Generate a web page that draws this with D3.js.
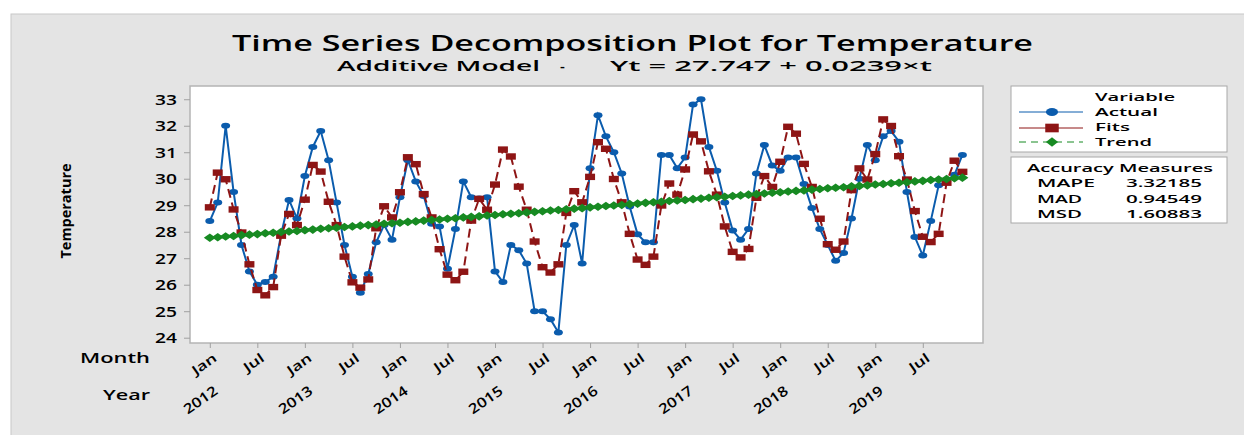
<!DOCTYPE html>
<html>
<head>
<meta charset="utf-8">
<script src="https://cdn.jsdelivr.net/npm/d3@7"></script>
<style>
  body { margin: 0; background: #fff; }
  text { font-family: "Open Sans", "Noto Sans", sans-serif; fill: #000; }
</style>
</head>
<body>
<div id="chart"></div>
<script>
// data, Jan 2012 .. Dec 2019 (monthly)
const years = [2012, 2013, 2014, 2015, 2016, 2017, 2018, 2019];
const monthLabels = ["Jan", "Jul"];
const yTicks = [24, 25, 26, 27, 28, 29, 30, 31, 32, 33];

const actual = [
  28.4, 29.1, 32.0, 29.5, 27.5, 26.5, 26.0, 26.1, 26.3, 27.9, 29.2, 28.5,
  30.1, 31.2, 31.8, 30.7, 29.1, 27.5, 26.3, 25.7, 26.4, 27.6, 28.25, 27.7,
  29.3, 30.7, 29.9, 29.35, 28.3, 28.2, 26.6, 28.1, 29.9, 29.3, 29.25, 29.3,
  26.5, 26.1, 27.5, 27.3, 26.8, 25.0, 25.0, 24.7, 24.2, 27.5, 28.25, 26.8,
  30.4, 32.4, 31.6, 31.0, 30.2, 28.95, 27.9, 27.6, 27.6, 30.9, 30.9, 30.4,
  30.8, 32.8, 33.0, 31.2, 30.3, 29.1, 28.05, 27.7, 28.1, 30.2, 31.27, 30.5,
  30.3, 30.8, 30.8, 29.8, 28.9, 28.1, 27.5, 26.9, 27.2, 28.5, 30.0, 31.27,
  30.7, 31.6, 31.8, 31.4, 29.5, 27.8, 27.1, 28.4, 29.75, 29.9, 30.15, 30.9
];

const fits = [
  28.92, 30.23, 29.98, 28.84, 27.97, 26.77, 25.80, 25.60, 25.91, 27.85, 28.67, 28.25,
  29.21, 30.52, 30.27, 29.13, 28.25, 27.06, 26.09, 25.89, 26.20, 28.13, 28.96, 28.54,
  29.49, 30.81, 30.55, 29.42, 28.54, 27.34, 26.38, 26.17, 26.49, 28.42, 29.24, 28.83,
  29.78, 31.10, 30.84, 29.70, 28.83, 27.63, 26.66, 26.46, 26.77, 28.71, 29.53, 29.11,
  30.07, 31.38, 31.13, 29.99, 29.11, 27.92, 26.95, 26.75, 27.06, 28.99, 29.82, 29.40,
  30.35, 31.67, 31.41, 30.28, 29.40, 28.20, 27.24, 27.03, 27.35, 29.28, 30.10, 29.69,
  30.64, 31.96, 31.70, 30.56, 29.69, 28.49, 27.53, 27.32, 27.63, 29.57, 30.39, 29.97,
  30.93, 32.24, 31.99, 30.85, 29.97, 28.78, 27.81, 27.61, 27.92, 29.85, 30.68, 30.26
];

const trend = [
  27.77, 27.79, 27.82, 27.84, 27.87, 27.89, 27.91, 27.94, 27.96, 27.99, 28.01, 28.03,
  28.06, 28.08, 28.11, 28.13, 28.15, 28.18, 28.20, 28.23, 28.25, 28.27, 28.30, 28.32,
  28.34, 28.37, 28.39, 28.42, 28.44, 28.46, 28.49, 28.51, 28.54, 28.56, 28.58, 28.61,
  28.63, 28.66, 28.68, 28.70, 28.73, 28.75, 28.77, 28.80, 28.82, 28.85, 28.87, 28.89,
  28.92, 28.94, 28.97, 28.99, 29.01, 29.04, 29.06, 29.09, 29.11, 29.13, 29.16, 29.18,
  29.20, 29.23, 29.25, 29.28, 29.30, 29.32, 29.35, 29.37, 29.40, 29.42, 29.44, 29.47,
  29.49, 29.52, 29.54, 29.56, 29.59, 29.61, 29.64, 29.66, 29.68, 29.71, 29.73, 29.75,
  29.78, 29.80, 29.83, 29.85, 29.87, 29.90, 29.92, 29.95, 29.97, 29.99, 30.02, 30.04
];

const seriesNames = ["Actual", "Fits", "Trend"];
const accuracyNames = ["MAPE", "MAD", "MSD"];
const accuracyValues = ["3.32185", "0.94549", "1.60883"];

const colors = { Actual: "#0b5cad", Fits: "#8e1515", Trend: "#178a22" };

const W = 1244, H = 435;
const plot = { left: 190, top: 86, right: 983, bottom: 343 };

const svg = d3.select("#chart")
  .append("svg")
    .attr("width", W)
    .attr("height", H);

// grey graph window
svg.append("rect")
  .attr("x", 11).attr("y", 14)
  .attr("width", W - 10).attr("height", H - 13)
  .attr("fill", "#e4e4e4")
  .attr("stroke", "#c8c8c8");

// scales
const x = d3.scaleLinear()
  .domain([-2.5, 97.6])
  .range([plot.left, plot.right]);

const y = d3.scaleLinear()
  .domain([23.8, 33.5])
  .range([plot.bottom, plot.top]);

svg.append("rect")
  .attr("x", plot.left).attr("y", plot.top)
  .attr("width", plot.right - plot.left)
  .attr("height", plot.bottom - plot.top)
  .attr("fill", "#fff")
  .attr("stroke", "#b4b4b4")
  .attr("stroke-width", 1.5);

// y axis
const yAxis = svg.append("g")
  .attr("transform", `translate(${plot.left},0)`)
  .call(d3.axisLeft(y).tickValues(yTicks).tickSize(6).tickPadding(7));
yAxis.select(".domain").remove();
yAxis.selectAll("line").attr("stroke", "#a0a0a0");
yAxis.selectAll("text")
  .attr("font-size", 15)
  .attr("font-weight", 600)
  .attr("textLength", 22)
  .attr("lengthAdjust", "spacingAndGlyphs");

// x axis: ticks at Jan and Jul
const tickIdx = d3.range(0, actual.length, 6);
const xAxis = svg.append("g")
  .attr("transform", `translate(0,${plot.bottom})`)
  .call(d3.axisBottom(x).tickValues(tickIdx).tickSize(5).tickFormat(""));
xAxis.select(".domain").remove();
xAxis.selectAll("line").attr("stroke", "#a0a0a0");

svg.selectAll(".month-label")
  .data(tickIdx)
  .enter()
  .append("text")
    .attr("class", "month-label")
    .attr("text-anchor", "end")
    .attr("font-size", 13)
    .attr("font-weight", 600)
    .attr("textLength", d => (d / 6) % 2 ? 22 : 27)
    .attr("lengthAdjust", "spacingAndGlyphs")
    .attr("transform", d => `translate(${x(d) + 8},360) rotate(-35)`)
    .text(d => monthLabels[(d / 6) % 2]);

svg.selectAll(".year-label")
  .data(years)
  .enter()
  .append("text")
    .attr("class", "year-label")
    .attr("text-anchor", "end")
    .attr("font-size", 14)
    .attr("font-weight", 600)
    .attr("textLength", 38)
    .attr("lengthAdjust", "spacingAndGlyphs")
    .attr("transform", (d, i) => `translate(${x(i * 12) + 9},393) rotate(-35)`)
    .text(d => d);

svg.append("text")
  .attr("x", 150).attr("y", 363)
  .attr("text-anchor", "end")
  .attr("font-size", 14).attr("font-weight", 600)
  .attr("textLength", 70).attr("lengthAdjust", "spacingAndGlyphs")
  .text("Month");

svg.append("text")
  .attr("x", 150).attr("y", 400)
  .attr("text-anchor", "end")
  .attr("font-size", 14).attr("font-weight", 600)
  .attr("textLength", 47).attr("lengthAdjust", "spacingAndGlyphs")
  .text("Year");

svg.append("text")
  .attr("transform", "translate(71,211) rotate(-90)")
  .attr("text-anchor", "middle")
  .attr("font-size", 14).attr("font-weight", 700)
  .attr("textLength", 95).attr("lengthAdjust", "spacingAndGlyphs")
  .text("Temperature");

// titles
svg.append("text")
  .attr("x", 232).attr("y", 51)
  .attr("font-size", 21).attr("font-weight", 600)
  .attr("textLength", 801).attr("lengthAdjust", "spacingAndGlyphs")
  .text("Time Series Decomposition Plot for Temperature");

svg.append("text")
  .attr("x", 337).attr("y", 71)
  .attr("font-size", 15).attr("font-weight", 600)
  .attr("textLength", 203).attr("lengthAdjust", "spacingAndGlyphs")
  .text("Additive Model");
svg.append("text")
  .attr("x", 560).attr("y", 71)
  .attr("font-size", 15).attr("font-weight", 600)
  .text("-");
svg.append("text")
  .attr("x", 610).attr("y", 71)
  .attr("font-size", 15).attr("font-weight", 600)
  .attr("textLength", 322).attr("lengthAdjust", "spacingAndGlyphs")
  .text("Yt = 27.747 + 0.0239×t");

// marker shapes
function marker(g, name, cx, cy, big) {
  const k = big ? 1.35 : 1;
  if (name === "Actual") {
    g.append("ellipse")
      .attr("cx", cx).attr("cy", cy)
      .attr("rx", 4.5 * k).attr("ry", 3 * k)
      .attr("fill", colors.Actual);
  } else if (name === "Fits") {
    g.append("rect")
      .attr("x", cx - 5 * k).attr("y", cy - 3.2 * k)
      .attr("width", 10 * k).attr("height", 6.4 * k)
      .attr("fill", colors.Fits);
  } else {
    const w = (big ? 4.5 : 6) * k, h = (big ? 3.5 : 4.3) * k;
    g.append("path")
      .attr("d", `M${cx - w},${cy}L${cx},${cy - h}L${cx + w},${cy}L${cx},${cy + h}Z`)
      .attr("fill", colors.Trend);
  }
}

const line = d3.line()
  .x((d, i) => x(i))
  .y(d => y(d));

const series = [
  { name: "Actual", values: actual, dash: null },
  { name: "Fits", values: fits, dash: "9,5" },
  { name: "Trend", values: trend, dash: "7,5" }
];

series.forEach(s => {
  const g = svg.append("g");
  g.append("path")
    .datum(s.values)
    .attr("fill", "none")
    .attr("stroke", colors[s.name])
    .attr("stroke-width", s.name === "Trend" ? 3 : 2)
    .attr("stroke-dasharray", s.dash)
    .attr("d", line);
  s.values.forEach((v, i) => marker(g, s.name, x(i), y(v), false));
});

// legend
const lg = svg.append("g");
lg.append("rect")
  .attr("x", 1011).attr("y", 86)
  .attr("width", 216).attr("height", 66)
  .attr("fill", "#fff").attr("stroke", "#a8a8a8");
lg.append("text")
  .attr("x", 1095).attr("y", 100.5)
  .attr("font-size", 11.5).attr("font-weight", 600)
  .attr("textLength", 80).attr("lengthAdjust", "spacingAndGlyphs")
  .text("Variable");

const rowY = [112, 128, 142];
const textY = [115.5, 130.5, 146];
const rowLen = [63, 35, 57];
seriesNames.forEach((name, i) => {
  lg.append("line")
    .attr("x1", 1019).attr("x2", 1083)
    .attr("y1", rowY[i]).attr("y2", rowY[i])
    .attr("stroke", colors[name])
    .attr("stroke-width", 1)
    .attr("stroke-dasharray", name === "Trend" ? "7,5" : null);
  marker(lg, name, 1052, rowY[i], true);
  lg.append("text")
    .attr("x", 1095).attr("y", textY[i])
    .attr("font-size", 11.5).attr("font-weight", 600)
    .attr("textLength", rowLen[i]).attr("lengthAdjust", "spacingAndGlyphs")
    .text(name);
});

const ag = svg.append("g");
ag.append("rect")
  .attr("x", 1011).attr("y", 157)
  .attr("width", 216).attr("height", 66)
  .attr("fill", "#fff").attr("stroke", "#a8a8a8");
ag.append("text")
  .attr("x", 1027).attr("y", 171.5)
  .attr("font-size", 11.5).attr("font-weight", 600)
  .attr("textLength", 186).attr("lengthAdjust", "spacingAndGlyphs")
  .text("Accuracy Measures");

accuracyNames.forEach((name, i) => {
  const yy = 187 + i * 15.5;
  ag.append("text")
    .attr("x", 1037).attr("y", yy)
    .attr("font-size", 11.5).attr("font-weight", 600)
    .attr("textLength", [58, 45, 45][i]).attr("lengthAdjust", "spacingAndGlyphs")
    .text(name);
  ag.append("text")
    .attr("x", 1202).attr("y", yy)
    .attr("text-anchor", "end")
    .attr("font-size", 11.5).attr("font-weight", 600)
    .attr("textLength", 76).attr("lengthAdjust", "spacingAndGlyphs")
    .text(accuracyValues[i]);
});
</script>
</body>
</html>
